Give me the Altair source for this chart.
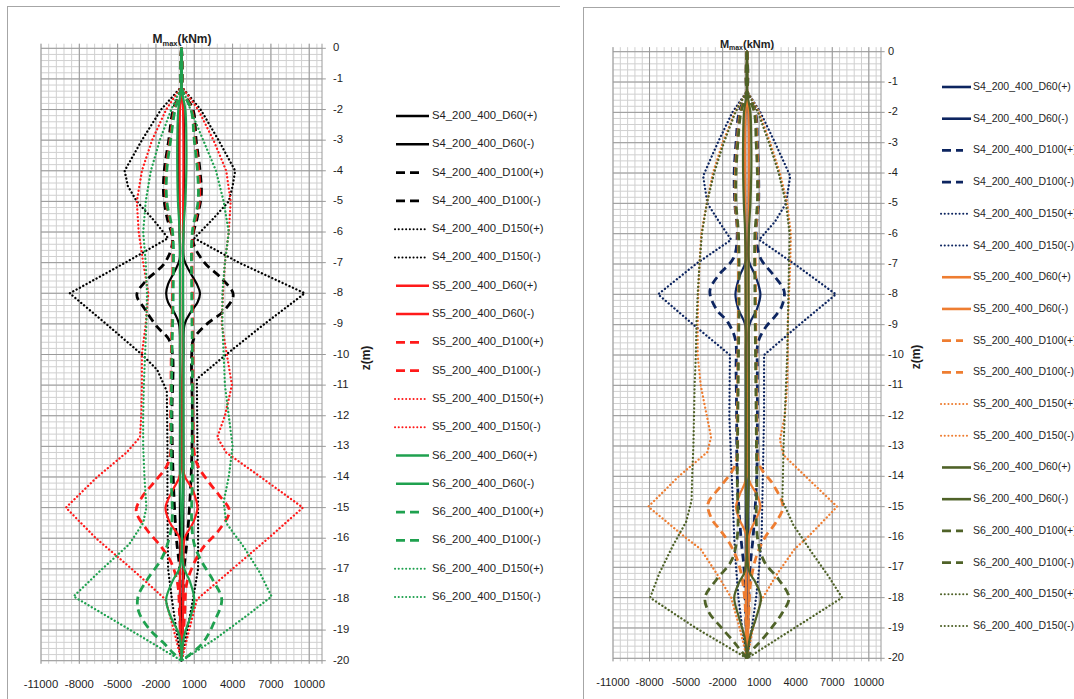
import altair as alt
import pandas as pd

# ---------------------------------------------------------------------------
# Maximum bending moment envelopes M_max (kNm) against depth z (m).
# Each series is a list of (z, M) pairs, from the pile head down to the toe.
# ---------------------------------------------------------------------------

# ---- left chart -----------------------------------------------------------
L_S4_D60_POS = [(0, 0), (-1.3, 0), (-2, 150), (-4, 200), (-6, 150), (-6.9, 200), (-7.3, 650), (-7.7, 1200),
                (-8.0, 1450), (-8.3, 1250), (-8.6, 750), (-9.0, 250), (-10, 150), (-14, 150), (-18, 120),
                (-19, 80), (-20, 0)]
L_S4_D60_NEG = [(0, 0), (-1.3, 0), (-2, -150), (-4, -200), (-6, -150), (-6.9, -150), (-7.3, -550), (-7.7, -1050),
                (-8.0, -1200), (-8.3, -1050), (-8.6, -600), (-9.0, -200), (-10, -120), (-14, -120), (-18, -100),
                (-19, -60), (-20, 0)]
L_S4_D100_POS = [(0, 0), (-1.3, 0), (-2, 900), (-3, 1150), (-4, 1450), (-4.8, 1550), (-5.5, 1250), (-6.3, 900),
                 (-7, 1800), (-7.5, 3100), (-8.05, 4050), (-8.6, 3250), (-9.0, 2000), (-9.5, 950), (-10, 800),
                 (-12, 850), (-14, 750), (-16, 450), (-17, 200), (-18, 100), (-20, 0)]
L_S4_D100_NEG = [(0, 0), (-1.3, 0), (-2, -650), (-3, -1000), (-4, -1350), (-4.8, -1400), (-5.5, -1150), (-6.3, -700),
                 (-7, -1300), (-7.6, -2800), (-8.05, -3500), (-8.5, -2900), (-9.1, -1900), (-9.5, -1000), (-10, -700),
                 (-12, -750), (-14, -650), (-16, -400), (-17, -150), (-18, -100), (-20, 0)]
L_S4_D150_POS = [(0, 0), (-1.25, 0), (-2, 1500), (-3, 2900), (-4, 4200), (-4.5, 4000), (-5, 3700), (-5.6, 2400),
                 (-6.2, 1000), (-7, 4500), (-8, 9650), (-9, 6500), (-10, 3500), (-10.8, 1200), (-13, 1250),
                 (-15, 1300), (-17, 1300), (-18, 900), (-19, 450), (-20, 0)]
L_S4_D150_NEG = [(0, 0), (-1.25, 0), (-2, -1600), (-3, -3100), (-4, -4450), (-4.5, -4200), (-5, -3500), (-5.6, -2200),
                 (-6.2, -1050), (-7, -4400), (-8, -8750), (-9, -5900), (-10, -3100), (-10.5, -1900), (-11.2, -1150),
                 (-13, -1100), (-15, -1100), (-17, -1050), (-18, -750), (-19, -400), (-20, 0)]

L_S5_D60_POS = [(0, 0), (-1.3, 0), (-2, 120), (-4, 150), (-6, 120), (-10, 120), (-13.9, 200), (-14.4, 850),
                (-15, 1250), (-15.5, 900), (-16, 250), (-17, 150), (-19, 100), (-20, 0)]
L_S5_D60_NEG = [(0, 0), (-1.3, 0), (-2, -120), (-4, -150), (-6, -120), (-10, -100), (-13.9, -100), (-14.4, -650),
                (-15, -1250), (-15.5, -900), (-16, -150), (-17, -120), (-19, -80), (-20, 0)]
L_S5_D100_POS = [(0, 0), (-1.3, 0), (-2, 800), (-3, 1050), (-4, 1350), (-5, 1400), (-6, 900), (-8, 850), (-10, 900),
                 (-12, 900), (-13.5, 1150), (-14.2, 2200), (-14.6, 2950), (-15.1, 3750), (-15.7, 3000), (-16.3, 1700),
                 (-16.8, 1000), (-17.5, 400), (-18.5, 250), (-20, 0)]
L_S5_D100_NEG = [(0, 0), (-1.3, 0), (-2, -550), (-3, -900), (-4, -1200), (-5, -1200), (-6, -750), (-8, -700),
                 (-10, -800), (-12, -850), (-13.5, -1000), (-14.2, -2200), (-14.6, -3000), (-15.1, -3550),
                 (-15.7, -2750), (-16.3, -1550), (-16.8, -800), (-17.5, -300), (-18.5, -150), (-20, 0)]
L_S5_D150_POS = [(0, 0), (-1.25, 0), (-2, 1300), (-3, 2500), (-4, 3500), (-5, 3850), (-6, 3700), (-7, 3400),
                 (-8, 3250), (-9, 3150), (-10, 3550), (-11, 3950), (-12, 3400), (-12.7, 2800), (-13.2, 3500),
                 (-14, 6200), (-15, 9500), (-16, 6800), (-17, 4000), (-18, 1200), (-19, 600), (-20, 0)]
L_S5_D150_NEG = [(0, 0), (-1.25, 0), (-2, -1200), (-3, -2300), (-4, -3100), (-5, -3500), (-6, -3350), (-7, -3000),
                 (-8, -2600), (-9, -2800), (-10, -3100), (-11, -3100), (-12, -3150), (-12.7, -3250), (-13.2, -4300),
                 (-14, -6600), (-15, -9050), (-16, -6700), (-17, -3900), (-18, -1250), (-19, -600), (-20, 0)]

L_S6_D60_POS = [(0, 0), (-1.3, 0), (-2, 300), (-3, 380), (-4, 380), (-5, 300), (-6, 150), (-10, 150), (-14, 150),
                (-16.9, 150), (-17.4, 650), (-18, 1000), (-18.5, 750), (-19.2, 200), (-20, 0)]
L_S6_D60_NEG = [(0, 0), (-1.3, 0), (-2, -250), (-3, -330), (-4, -330), (-5, -280), (-6, -150), (-10, -100),
                (-14, -100), (-16.9, -100), (-17.4, -700), (-18, -1200), (-18.5, -900), (-19.2, -150), (-20, 0)]
L_S6_D100_POS = [(0, 0), (-1.3, 0), (-2, 750), (-3, 1000), (-4, 1250), (-5, 1300), (-6, 850), (-8, 800), (-10, 850),
                 (-12, 850), (-14, 850), (-15.5, 800), (-16.2, 1000), (-16.7, 1500), (-17.4, 2500), (-18, 3150),
                 (-18.7, 2600), (-19.4, 1700), (-19.8, 650), (-20, 0)]
L_S6_D100_NEG = [(0, 0), (-1.3, 0), (-2, -500), (-3, -850), (-4, -1150), (-5, -1150), (-6, -700), (-8, -650),
                 (-10, -750), (-12, -800), (-14, -800), (-15.5, -750), (-16.2, -1100), (-16.7, -1600), (-17.3, -2600),
                 (-17.9, -3400), (-18.4, -3350), (-19.0, -2450), (-19.4, -1450), (-19.75, -650), (-20, 0)]
L_S6_D150_POS = [(0, 0), (-1.25, 0), (-2, 700), (-3, 1700), (-4, 2700), (-5, 3300), (-6, 3700), (-7, 3400),
                 (-8, 3200), (-9, 3200), (-10, 3300), (-11, 3400), (-12, 3700), (-13, 4000), (-14, 3700),
                 (-14.8, 3300), (-15.5, 3500), (-16.3, 4900), (-17.1, 6100), (-17.9, 7050), (-18.5, 5200),
                 (-19.3, 2600), (-20, 0)]
L_S6_D150_NEG = [(0, 0), (-1.25, 0), (-2, -800), (-3, -1700), (-4, -2400), (-5, -2800), (-6, -3000), (-7, -2800),
                 (-8, -2700), (-9, -2750), (-10, -2850), (-11, -2950), (-12, -3000), (-13, -3000), (-14, -2900),
                 (-15, -2750), (-15.5, -3000), (-16.2, -4100), (-17, -6200), (-17.9, -8450), (-18.9, -4400), (-20, 0)]

# ---- right chart ----------------------------------------------------------
R_S4_D60_POS = [(0, 0), (-1.3, 0), (-2, 120), (-4, 150), (-6, 120), (-6.9, 150), (-7.4, 700), (-8, 1100),
                (-8.5, 800), (-9, 200), (-10, 120), (-16, 120), (-19, 80), (-20, 0)]
R_S4_D60_NEG = [(0, 0), (-1.3, 0), (-2, -120), (-4, -150), (-6, -120), (-6.9, -100), (-7.4, -600), (-8, -950),
                (-8.5, -700), (-9, -150), (-10, -100), (-16, -100), (-19, -60), (-20, 0)]
R_S4_D100_POS = [(0, 0), (-1.3, 0), (-2, 700), (-3, 850), (-4, 950), (-5, 950), (-6, 750), (-6.8, 1100), (-7.4, 2250),
                 (-7.9, 3050), (-8.4, 2850), (-8.7, 2350), (-9.1, 1500), (-9.6, 900), (-10.5, 850), (-12, 850),
                 (-14, 800), (-16, 500), (-17, 250), (-18, 150), (-20, 0)]
R_S4_D100_NEG = [(0, 0), (-1.3, 0), (-2, -650), (-3, -900), (-4, -1050), (-5, -1000), (-6, -800), (-6.8, -1100),
                 (-7.4, -2400), (-7.9, -3050), (-8.5, -2500), (-8.9, -1600), (-9.5, -950), (-10.5, -900), (-12, -850),
                 (-14, -800), (-16, -500), (-17, -250), (-18, -150), (-20, 0)]
R_S4_D150_POS = [(0, 0), (-1.3, 0), (-2, 1100), (-3, 2300), (-4.1, 3550), (-5, 3200), (-5.6, 2300), (-6.2, 1000),
                 (-7, 3900), (-8, 7300), (-9, 4300), (-10, 1400), (-12, 1400), (-14, 1300), (-16, 1200), (-17, 1000),
                 (-18, 750), (-19, 400), (-20, 0)]
R_S4_D150_NEG = [(0, 0), (-1.3, 0), (-2, -1200), (-3, -2400), (-4.1, -3600), (-5, -3250), (-5.6, -2300), (-6.2, -1300),
                 (-7, -4200), (-8, -7300), (-9, -4400), (-10, -1400), (-12, -1450), (-14, -1250), (-16, -1050),
                 (-17, -900), (-18, -700), (-19, -400), (-20, 0)]

R_S5_D60_POS = [(0, 0), (-1.3, 0), (-2, 120), (-4, 150), (-6, 120), (-10, 120), (-14.1, 150), (-14.6, 800),
                (-15, 1100), (-15.4, 750), (-15.9, 200), (-17, 150), (-19, 100), (-20, 0)]
R_S5_D60_NEG = [(0, 0), (-1.3, 0), (-2, -120), (-4, -150), (-6, -120), (-10, -100), (-14.1, -100), (-14.6, -600),
                (-15, -900), (-15.4, -650), (-15.9, -100), (-17, -100), (-19, -60), (-20, 0)]
R_S5_D100_POS = [(0, 0), (-1.3, 0), (-2, 650), (-3, 800), (-4, 900), (-5, 900), (-6, 700), (-8, 700), (-10, 750),
                 (-12, 800), (-13.6, 1000), (-14.3, 2200), (-15, 2950), (-15.5, 2400), (-16, 1500), (-16.6, 800),
                 (-17.5, 300), (-18.5, 150), (-20, 0)]
R_S5_D100_NEG = [(0, 0), (-1.3, 0), (-2, -550), (-3, -800), (-4, -950), (-5, -950), (-6, -750), (-8, -700),
                 (-10, -750), (-12, -800), (-13.6, -950), (-14.3, -2100), (-14.9, -3200), (-15.4, -2900),
                 (-15.8, -2150), (-16.3, -1300), (-17, -600), (-18, -200), (-20, 0)]
R_S5_D150_POS = [(0, 0), (-1.3, 0), (-2, 1000), (-3, 1900), (-4, 2700), (-5, 3300), (-6, 3600), (-7, 3550),
                 (-8, 3450), (-9, 3350), (-10, 3350), (-11, 3300), (-12, 3100), (-12.8, 2700), (-13.3, 3000),
                 (-14, 4800), (-15, 7400), (-16, 5000), (-16.4, 3900), (-17.2, 2500), (-18.1, 1150), (-19, 500),
                 (-20, 0)]
R_S5_D150_NEG = [(0, 0), (-1.3, 0), (-2, -1000), (-3, -2000), (-4, -2800), (-5, -3300), (-6, -3750), (-7, -3900),
                 (-8, -4000), (-9, -4050), (-10, -4050), (-11, -3800), (-12, -3300), (-12.7, -2950), (-13.2, -3250),
                 (-14, -5600), (-15, -8100), (-16, -5100), (-16.4, -3800), (-17.2, -2500), (-18, -1300), (-19, -600),
                 (-20, 0)]

R_S6_D60_POS = [(0, 0), (-1.3, 0), (-2, 280), (-3, 350), (-4, 350), (-5, 280), (-6, 150), (-10, 150), (-14, 150),
                (-17.1, 150), (-17.5, 700), (-18, 1150), (-18.6, 800), (-19.3, 250), (-20, 0)]
R_S6_D60_NEG = [(0, 0), (-1.3, 0), (-2, -250), (-3, -320), (-4, -320), (-5, -260), (-6, -150), (-10, -100),
                (-14, -100), (-17.1, -150), (-17.5, -650), (-18, -1050), (-18.6, -700), (-19.3, -200), (-20, 0)]
R_S6_D100_POS = [(0, 0), (-1.3, 0), (-2, 600), (-3, 750), (-4, 850), (-5, 850), (-6, 650), (-8, 650), (-10, 700),
                 (-12, 750), (-14, 800), (-16, 850), (-16.8, 1400), (-17.4, 2600), (-18, 3450), (-18.5, 2900),
                 (-18.9, 2200), (-19.4, 1200), (-19.7, 500), (-20, 0)]
R_S6_D100_NEG = [(0, 0), (-1.3, 0), (-2, -500), (-3, -750), (-4, -900), (-5, -900), (-6, -700), (-8, -650),
                 (-10, -700), (-12, -750), (-14, -800), (-16, -800), (-16.8, -1300), (-17.4, -2500), (-18, -3450),
                 (-18.5, -3100), (-18.9, -2300), (-19.4, -1200), (-19.7, -600), (-20, 0)]
R_S6_D150_POS = [(0, 0), (-1.3, 0), (-2, 900), (-3, 1800), (-4, 2600), (-5, 3200), (-6, 3500), (-7, 3450),
                 (-8, 3400), (-9, 3350), (-10, 3300), (-11, 3200), (-12, 3100), (-13, 3000), (-14, 2950),
                 (-14.8, 2900), (-15.6, 3800), (-16.5, 5300), (-17.3, 6700), (-18, 7800), (-19, 3900), (-20, 0)]
R_S6_D150_NEG = [(0, 0), (-1.3, 0), (-2, -950), (-3, -1900), (-4, -2700), (-5, -3300), (-6, -3700), (-7, -3900),
                 (-8, -4050), (-9, -4150), (-10, -4200), (-11, -4300), (-12, -4350), (-13, -4400), (-14, -4500),
                 (-14.8, -4550), (-15.5, -5000), (-16.3, -6100), (-17.2, -7200), (-18, -7950), (-19, -4200), (-20, 0)]

# ---- series structure, tick values ------------------------------------------
GROUPS = ["S4", "S5", "S6"]
DIAMS = ["D60", "D100", "D150"]
SIGNS = ["+", "-"]

X_MAJOR = [-11000, -8000, -5000, -2000, 1000, 4000, 7000, 10000]
X_MINOR = list(range(-11000, 11001, 600))
Z_MAJOR = list(range(0, -21, -1))
Z_MINOR = [-k / 5 for k in range(101)]
M_MIN, M_MAX = -11000, 11000
Z_MIN, Z_MAX = -20, 0


def curves(prefix):
    g = globals()
    out = {}
    for grp in GROUPS:
        for dia in DIAMS:
            out[(grp, dia, "+")] = g[f"{prefix}_{grp}_{dia}_POS"]
            out[(grp, dia, "-")] = g[f"{prefix}_{grp}_{dia}_NEG"]
    return out


FONT = "Liberation Sans"
TEXT = "#1e1e1e"
GRID_MAJOR = "#9a9a9a"
GRID_MINOR = "#d0d0d0"
FRAME = "#a6a6a6"

LINE_STYLE = {
    "D60": dict(strokeWidth=2.2, interpolate="catmull-rom"),
    "D100": dict(strokeWidth=2.8, strokeDash=[8, 5], interpolate="catmull-rom"),
    "D150": dict(strokeWidth=2.3, strokeDash=[0.1, 3.7], strokeCap="round", interpolate="linear"),
}
LEGEND_STYLE = {
    "D60": dict(strokeWidth=2.6),
    "D100": dict(strokeWidth=2.8, strokeDash=[9, 5]),
    "D150": dict(strokeWidth=2.0, strokeDash=[0.1, 3.6], strokeCap="round"),
}

# with angle=270 the text offsets act in the turned frame: dx moves up, dy moves right
PANELS = [
    dict(prefix="L", x_range=[41, 322], y_range=[660.7, 48.3],
         colors={"S4": "#000000", "S5": "#ff1a1a", "S6": "#1fa14f"},
         leg_y=[116, 597], leg_x={"D60": (396, 429), "D100": (396, 421), "D150": (395, 427)},
         leg_text_x=432, leg_font=11.3, tick_font=11.3, ylab_dx=11, xlab_dy=24,
         title_font=12, sub_font=7.5, title_dx=(-29, -19, -4), title_dy=(-5.5, -2.5),
         ztitle_up=-3.5, ztitle_right=44),
    dict(prefix="R", x_range=[613, 881], y_range=[658.3, 51.7],
         colors={"S4": "#0d2560", "S5": "#ee7d31", "S6": "#4f6228"},
         leg_y=[87, 626], leg_x={"D60": (942, 971), "D100": (942, 963), "D150": (941, 968)},
         leg_text_x=973, leg_font=10.5, tick_font=11, ylab_dx=7, xlab_dy=25,
         title_font=11, sub_font=7, title_dx=(-27, -18, -4), title_dy=(-4, -1.5),
         ztitle_up=-2, ztitle_right=35),
]


def panel_layers(p):
    xs = alt.Scale(domain=[M_MIN, M_MAX], range=p["x_range"], nice=False, zero=False)
    ys = alt.Scale(domain=[Z_MIN, Z_MAX], range=p["y_range"], nice=False, zero=False)
    X = lambda f: alt.X(f, type="quantitative", scale=xs, axis=None)
    Y = lambda f: alt.Y(f, type="quantitative", scale=ys, axis=None)
    layers = []

    # grid: minor then major, vertical lines reach a little past the frame (tick marks)
    vmin = pd.DataFrame({"M": X_MINOR, "z0": 0.15, "z1": -20.1})
    hmin = pd.DataFrame({"z": Z_MINOR, "m0": M_MIN, "m1": M_MAX})
    vmaj = pd.DataFrame({"M": X_MAJOR + [M_MAX], "z0": 0.15, "z1": -20.1})
    hmaj = pd.DataFrame({"z": Z_MAJOR, "m0": M_MIN, "m1": M_MAX + 300})
    layers.append(alt.Chart(vmin).mark_rule(color=GRID_MINOR, strokeWidth=1).encode(
        x=X("M"), y=Y("z0"), y2="z1"))
    layers.append(alt.Chart(hmin).mark_rule(color=GRID_MINOR, strokeWidth=1).encode(
        x=X("m0"), x2="m1", y=Y("z")))
    layers.append(alt.Chart(vmaj).mark_rule(color=GRID_MAJOR, strokeWidth=1).encode(
        x=X("M"), y=Y("z0"), y2="z1"))
    layers.append(alt.Chart(hmaj).mark_rule(color=GRID_MAJOR, strokeWidth=1).encode(
        x=X("m0"), x2="m1", y=Y("z")))

    # moment envelopes, drawn in series order
    cv = curves(p["prefix"])
    for grp in GROUPS:
        for dia in DIAMS:
            rows = []
            for sign in SIGNS:
                for i, (z, m) in enumerate(cv[(grp, dia, sign)]):
                    rows.append({"sign": sign, "i": i, "z": z, "M": m})
            layers.append(alt.Chart(pd.DataFrame(rows)).mark_line(
                color=p["colors"][grp], **LINE_STYLE[dia]).encode(
                x=X("M"), y=Y("z"), detail="sign:N", order="i:Q"))

    # tick labels
    xl = pd.DataFrame({"M": X_MAJOR, "z": Z_MIN, "t": [str(v) for v in X_MAJOR]})
    layers.append(alt.Chart(xl).mark_text(font=FONT, fontSize=p["tick_font"], color=TEXT,
                                          baseline="middle", align="center", dy=p["xlab_dy"]).encode(
        x=X("M"), y=Y("z"), text="t:N"))
    yl = pd.DataFrame({"M": M_MAX, "z": Z_MAJOR, "t": [str(v) for v in Z_MAJOR]})
    layers.append(alt.Chart(yl).mark_text(font=FONT, fontSize=p["tick_font"], color=TEXT,
                                          baseline="middle", align="left", dx=p["ylab_dx"]).encode(
        x=X("M"), y=Y("z"), text="t:N"))

    # axis titles: M_max(kNm) on top, z(m) rotated beside the depth labels
    top = pd.DataFrame({"M": [0], "z": [Z_MAX]})
    dx1, dx2, dx3 = p["title_dx"]
    dy1, dy2 = p["title_dy"]
    layers.append(alt.Chart(top).mark_text(text="M", font=FONT, fontWeight="bold", fontSize=p["title_font"],
                                           color=TEXT, align="left", baseline="alphabetic", dx=dx1, dy=dy1).encode(
        x=X("M"), y=Y("z")))
    layers.append(alt.Chart(top).mark_text(text="max", font=FONT, fontWeight="bold", fontSize=p["sub_font"],
                                           color=TEXT, align="left", baseline="alphabetic", dx=dx2, dy=dy2).encode(
        x=X("M"), y=Y("z")))
    layers.append(alt.Chart(top).mark_text(text="(kNm)", font=FONT, fontWeight="bold", fontSize=p["title_font"],
                                           color=TEXT, align="left", baseline="alphabetic", dx=dx3, dy=dy1).encode(
        x=X("M"), y=Y("z")))
    side = pd.DataFrame({"M": [M_MAX], "z": [-10]})
    layers.append(alt.Chart(side).mark_text(text="z(m)", font=FONT, fontWeight="bold", fontSize=12, color=TEXT,
                                            angle=270, align="center", baseline="middle",
                                            dx=p["ztitle_up"], dy=p["ztitle_right"]).encode(
        x=X("M"), y=Y("z")))

    # legend: one row per series, same order as the series are drawn
    ls = alt.Scale(domain=[0, 17], range=p["leg_y"], nice=False, zero=False)
    names = []
    idx = 0
    for grp in GROUPS:
        for dia in DIAMS:
            rows = []
            for sign in SIGNS:
                names.append({"k": idx, "name": f"{grp}_200_400_{dia}({sign})"})
                rows.append({"k": idx})
                idx += 1
            x0, x1 = p["leg_x"][dia]
            layers.append(alt.Chart(pd.DataFrame(rows)).mark_rule(
                color=p["colors"][grp], **LEGEND_STYLE[dia]).encode(
                x=alt.value(x0), x2=alt.value(x1),
                y=alt.Y("k:Q", scale=ls, axis=None)))
    layers.append(alt.Chart(pd.DataFrame(names)).mark_text(
        font=FONT, fontSize=p["leg_font"], color=TEXT, align="left", baseline="middle").encode(
        x=alt.value(p["leg_text_x"]), y=alt.Y("k:Q", scale=ls, axis=None), text="name:N"))
    return layers


# chart-area borders of the two charts
frame_df = pd.DataFrame({"a": [0]})
frames = [
    alt.Chart(frame_df).mark_rule(color=FRAME, strokeWidth=1).encode(
        x=alt.value(7), x2=alt.value(560), y=alt.value(6.5)),
    alt.Chart(frame_df).mark_rule(color=FRAME, strokeWidth=1).encode(
        x=alt.value(7.5), y=alt.value(6), y2=alt.value(700)),
    alt.Chart(frame_df).mark_rule(color=FRAME, strokeWidth=1).encode(
        x=alt.value(583), x2=alt.value(1080), y=alt.value(7.5)),
    alt.Chart(frame_df).mark_rule(color=FRAME, strokeWidth=1).encode(
        x=alt.value(583.5), y=alt.value(7), y2=alt.value(700)),
]

all_layers = frames + panel_layers(PANELS[0]) + panel_layers(PANELS[1])

chart = alt.layer(*all_layers).resolve_scale(
    x="independent", y="independent"
).properties(
    width=1074, height=699, padding=0,
    autosize=alt.AutoSizeParams(type="none"),
    background="white",
).configure_view(stroke=None)

chart.save("out.html", embed_options={"renderer": "svg", "actions": False})
